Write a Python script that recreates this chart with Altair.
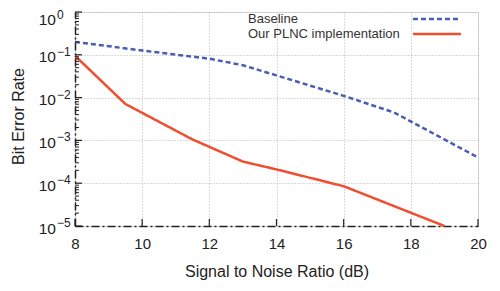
import altair as alt
import pandas as pd

# ---- data ----
snr_baseline = [8, 10, 12, 13, 14, 16, 17.5, 20]
ber_baseline = [0.2, 0.126, 0.081, 0.057, 0.033, 0.011, 0.0045, 0.0004]
snr_plnc = [8, 9.5, 11.5, 13, 14, 16, 19]
ber_plnc = [0.095, 0.0071, 0.00105, 0.00032, 0.00021, 0.000085, 0.00001]
series_names = ["Baseline", "Our PLNC implementation"]
series_colors = ["#4b5db3", "#f04e2f"]
series_dash = [[5, 3], [1, 0]]
x_ticks = [8, 10, 12, 14, 16, 18, 20]
y_ticks = [1e-5, 1e-4, 1e-3, 1e-2, 1e-1, 1]
y_tick_base = ["10", "10", "10", "10", "10", "10"]
y_tick_exp = ["−5", "−4", "−3", "−2", "−1", "0"]
y_minor = [m * d for d in y_ticks[:-1] for m in range(2, 10)]

W, H = 403, 214
FONT = "Liberation Sans"
TXT = "#222222"

df = pd.concat([
    pd.DataFrame({"snr": snr_baseline, "ber": ber_baseline, "series": series_names[0]}),
    pd.DataFrame({"snr": snr_plnc, "ber": ber_plnc, "series": series_names[1]}),
])
ylab = pd.DataFrame({"v": y_ticks, "base": y_tick_base, "exp": y_tick_exp})

xscale = alt.Scale(domain=[8, 20], nice=False, zero=False)
yscale = alt.Scale(type="log", domain=[1e-5, 1], nice=False)

xaxis = alt.Axis(values=x_ticks, grid=True, gridDash=[1, 2], gridColor="#b5b5b5",
                 ticks=False, domainDash=[8, 3, 2, 3], domainColor=TXT, domainWidth=1.5,
                 labelFont=FONT, labelFontSize=15, labelColor=TXT, labelPadding=10,
                 labelFlush=False, labelOverlap=False, labelBound=False,
                 title="Signal to Noise Ratio (dB)", titleFont=FONT, titleFontSize=16,
                 titleFontWeight="normal", titleColor=TXT, titlePadding=12)
yaxis = alt.Axis(values=y_ticks, grid=True, gridDash=[1, 2], gridColor="#b5b5b5",
                 ticks=False, labels=False, domainDash=[8, 3, 2, 3], domainColor=TXT,
                 domainWidth=1.5,
                 title="Bit Error Rate", titleFont=FONT, titleFontSize=16,
                 titleFontWeight="normal", titleColor=TXT, titleX=-57, titleY=104,
                 titleAngle=-90, titleAlign="center", titleBaseline="middle")

lines = alt.Chart(df).mark_line(strokeWidth=2.5).encode(
    x=alt.X("snr:Q", scale=xscale, axis=xaxis),
    y=alt.Y("ber:Q", scale=yscale, axis=yaxis),
    color=alt.Color("series:N", scale=alt.Scale(domain=series_names, range=series_colors), legend=None),
    strokeDash=alt.StrokeDash("series:N", scale=alt.Scale(domain=series_names, range=series_dash), legend=None),
)

# y tick labels as base + superscript exponent
lab_base = alt.Chart(ylab).transform_filter("datum.v < 0.5").mark_text(
    align="right", baseline="middle", font=FONT, fontSize=15.5, color=TXT, dy=2.5
).encode(y=alt.Y("v:Q", scale=yscale), x=alt.value(-19), text="base:N")
lab_exp = alt.Chart(ylab).transform_filter("datum.v < 0.5").mark_text(
    align="left", baseline="middle", font=FONT, fontSize=12, color=TXT, dy=-3
).encode(y=alt.Y("v:Q", scale=yscale), x=alt.value(-18), text="exp:N")
top_base = alt.Chart(ylab).transform_filter("datum.v >= 0.5").mark_text(
    align="right", baseline="middle", font=FONT, fontSize=15.5, color=TXT, dy=7.5
).encode(y=alt.Y("v:Q", scale=yscale), x=alt.value(-19), text="base:N")
top_exp = alt.Chart(ylab).transform_filter("datum.v >= 0.5").mark_text(
    align="left", baseline="middle", font=FONT, fontSize=12, color=TXT, dy=3
).encode(y=alt.Y("v:Q", scale=yscale), x=alt.value(-18), text="exp:N")

# inward tick marks
ymaj = alt.Chart(pd.DataFrame({"v": y_ticks})).mark_rule(color=TXT, strokeWidth=1.2).encode(
    y=alt.Y("v:Q", scale=yscale), x=alt.value(0), x2=alt.value(7))
ymin = alt.Chart(pd.DataFrame({"v": y_minor})).mark_rule(color=TXT, strokeWidth=1).encode(
    y=alt.Y("v:Q", scale=yscale), x=alt.value(0), x2=alt.value(4))
xmaj = alt.Chart(pd.DataFrame({"v": x_ticks})).mark_rule(color=TXT, strokeWidth=1.2).encode(
    x=alt.X("v:Q", scale=xscale), y=alt.value(H), y2=alt.value(H - 7))

# manual legend (labels left-aligned, sample lines to the right)
legend_layers = []
row_y = [7, 22]
for name, col, dash, ry in zip(series_names, series_colors, series_dash, row_y):
    legend_layers.append(
        alt.Chart(pd.DataFrame({"name": [name]})).mark_text(
            align="left", baseline="middle", font=FONT, fontSize=13, color="#333333"
        ).encode(text="name:N", x=alt.value(173), y=alt.value(ry))
    )
    legend_layers.append(
        alt.Chart(pd.DataFrame({"name": [name]})).mark_rule(
            color=col, strokeWidth=2.5, strokeDash=dash
        ).encode(x=alt.value(338), x2=alt.value(386), y=alt.value(ry))
    )

chart = alt.layer(lines, lab_base, lab_exp, top_base, top_exp, ymaj, ymin, xmaj,
                  *legend_layers).properties(
    width=W, height=H,
    autosize=alt.AutoSizeParams(type="none"),
    padding={"left": 67, "top": 4, "right": 14, "bottom": 57},
).configure_view(stroke=None).configure(background="white")

chart.save("out.html", embed_options={"renderer": "svg", "actions": False})
